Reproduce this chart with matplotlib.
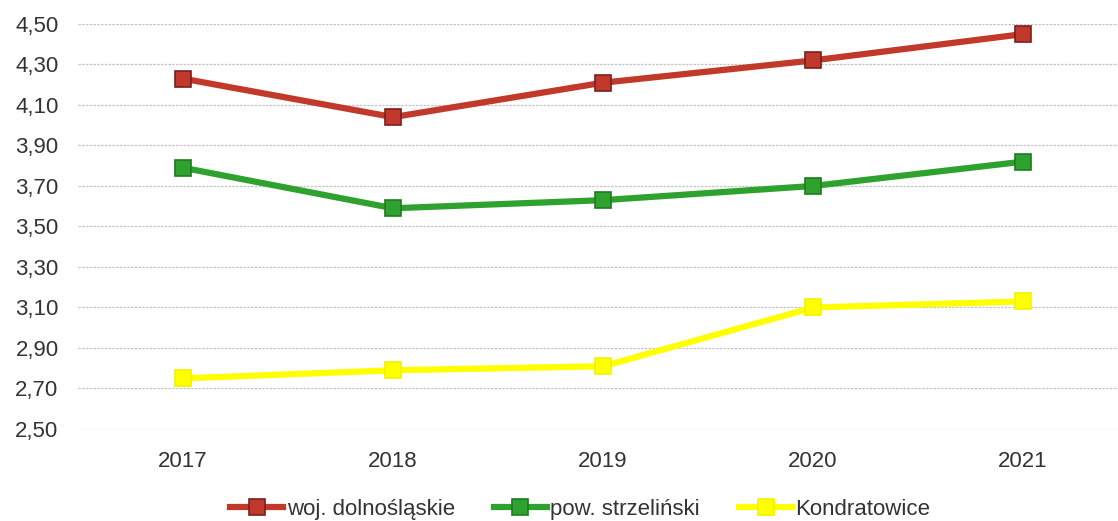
import matplotlib.pyplot as plt
from matplotlib.ticker import FixedLocator, FuncFormatter

years = ["2017", "2018", "2019", "2020", "2021"]
woj_dolnoslaskie = [4.23, 4.04, 4.21, 4.32, 4.45]
pow_strzelinski = [3.79, 3.59, 3.63, 3.70, 3.82]
kondratowice = [2.75, 2.79, 2.81, 3.10, 3.13]
y_ticks = [2.50, 2.70, 2.90, 3.10, 3.30, 3.50, 3.70, 3.90, 4.10, 4.30, 4.50]

plt.rcParams['font.family'] = ['Liberation Sans', 'DejaVu Sans']

fig = plt.figure(figsize=(11.18, 5.21), dpi=100)
ax = fig.add_axes([0.0698, 0.1766, 0.9302, 0.7774])

x = list(range(len(years)))
series = [
    ("woj. dolnośląskie", woj_dolnoslaskie, "#C0392B", "#7A1F1F"),
    ("pow. strzeliński", pow_strzelinski, "#2EA12E", "#1F7A1F"),
    ("Kondratowice", kondratowice, "#FFFF00", "#F2F200"),
]
for label, vals, col, edge in series:
    ax.plot(x, vals, color=col, lw=4.5, marker="s", markersize=11.5,
            markerfacecolor=col, markeredgecolor=edge, markeredgewidth=1.2,
            label=label, zorder=3, solid_joinstyle="miter")

ax.set_ylim(2.5, 4.5)
ax.set_xlim(-0.5, 4.452)
ax.yaxis.set_major_locator(FixedLocator(y_ticks))
ax.yaxis.set_major_formatter(FuncFormatter(lambda v, p: f"{v:.2f}".replace(".", ",")))
ax.set_xticks(x)
ax.set_xticklabels(years)
ax.grid(axis="y", color="#C4C4C4", lw=0.9, ls=(0, (2, 1)), zorder=0)
ax.set_axisbelow(True)
for s in ax.spines.values():
    s.set_visible(False)
ax.tick_params(axis="both", length=0, labelsize=16, colors="#333333")
ax.tick_params(axis="y", pad=14)
ax.tick_params(axis="x", pad=16)

fig.legend(loc="center", bbox_to_anchor=(0.519, 0.022), ncol=3, frameon=False,
           fontsize=16, handlelength=2.4, columnspacing=1.75, handletextpad=0.15,
           labelcolor="#333333")

fig.savefig("out.png", dpi=100)
